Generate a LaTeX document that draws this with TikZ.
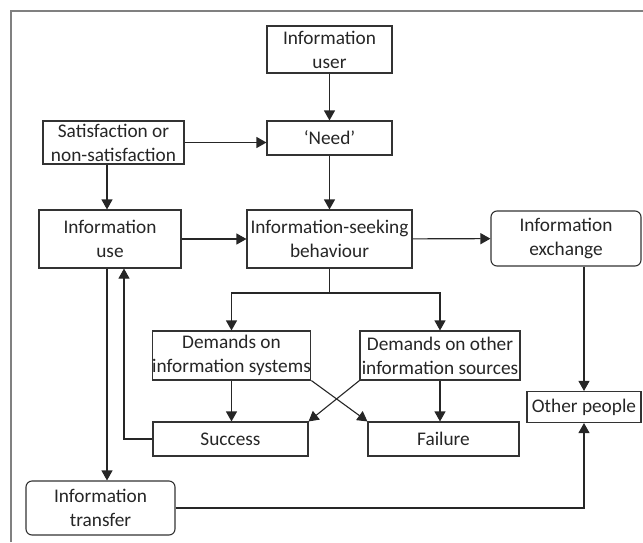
\documentclass[tikz,border=0pt]{standalone}
\usepackage{fontspec}
\setmainfont{Carlito}
\usetikzlibrary{arrows.meta}
\definecolor{boxline}{HTML}{333333}
\definecolor{txt}{HTML}{262626}
\definecolor{framec}{HTML}{808080}
\begin{document}
\begin{tikzpicture}[x=1pt,y=-1pt,
  box/.style={draw=boxline,line width=1.1pt,fill=white,inner sep=0pt,align=center,
    text=txt,font=\fontsize{19.3}{24}\selectfont},
  rbox/.style={box,rounded corners=6pt},
  arr/.style={draw=black!85,line width=1.1pt,-{Triangle[length=10pt,width=11pt]}},
  ln/.style={draw=black!85,line width=1.1pt}]
\useasboundingbox (0,0) rectangle (643,542);
\draw[framec,line width=2pt] (11,542) -- (11,11) -- (643,11);

\node[box,minimum width=125pt,minimum height=47pt] (user) at (329.5,49.5) {Information\\user};
\node[box,minimum width=125pt,minimum height=34pt] (need) at (329.5,138) {‘Need’};
\node[box,minimum width=141pt,minimum height=43pt] (sat) at (113.5,142.5) {Satisfaction or\\non-satisfaction};
\node[box,minimum width=142pt,minimum height=58pt] (use) at (110,239) {Information\\use};
\node[box,minimum width=165pt,minimum height=58pt] (seek) at (329.5,239) {Information-seeking\\behaviour};
\node[rbox,minimum width=150pt,minimum height=55pt] (exch) at (566,238.5) {Information\\exchange};
\node[box,minimum width=155pt,minimum height=49pt] (dsys) at (231.5,355.5) {Demands on\\information systems};
\node[box,minimum width=160pt,minimum height=49pt] (doth) at (440,355.5) {Demands on other\\information sources};
\node[box,minimum width=155pt,minimum height=34pt] (succ) at (230.5,439) {Success};
\node[box,minimum width=151pt,minimum height=34pt] (fail) at (443.5,439) {Failure};
\node[box,minimum width=114pt,minimum height=31pt] (other) at (584,407) {Other people};
\node[rbox,minimum width=149pt,minimum height=54pt] (trans) at (100.5,508) {Information\\transfer};

\coordinate (lx) at (107,0);
\coordinate (ux) at (124,0);
\coordinate (br) at (329.5,293);

\draw[arr] (user) -- (need);
\draw[arr] (sat.east) -- (sat.east -| need.west);
\draw[arr] (sat.south -| lx) -- (use.north -| lx);
\draw[arr] (need) -- (seek);
\draw[arr] (use) -- (seek);
\draw[arr] (seek) -- (exch);
\draw[ln] (seek.south) -- (br);
\draw[arr] (br) -| (dsys.north);
\draw[arr] (br) -| (doth.north);
\draw[arr] (dsys.south) -- (dsys.south |- succ.north);
\draw[arr] (doth.south) -- (doth.south |- fail.north);
\draw[arr] (dsys.south east) -- (fail.north west);
\draw[arr] (doth.south west) -- (succ.north east);
\draw[arr] (succ.west) -| (use.south -| ux);
\draw[arr] (use.south -| lx) -- (trans.north -| lx);
\draw[arr] (exch.south -| other.north) -- (other.north);
\draw[arr] (trans.east) -| (other.south);
\end{tikzpicture}
\end{document}
